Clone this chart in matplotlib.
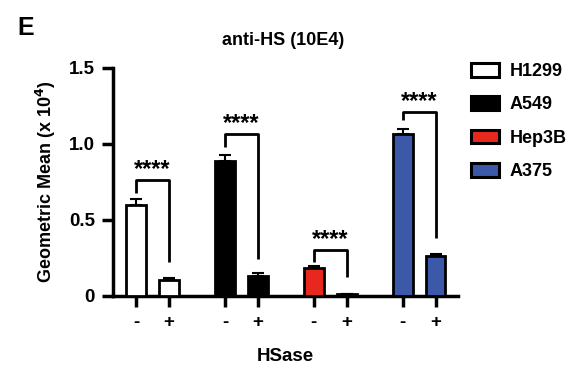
import matplotlib
matplotlib.use("Agg")
import matplotlib.pyplot as plt
from matplotlib.patches import Patch
import numpy as np

plt.rcParams["font.family"] = ["Liberation Sans", "DejaVu Sans"]
plt.rcParams["font.weight"] = "bold"

cell_lines = ["H1299", "A549", "Hep3B", "A375"]
colors = ["white", "black", "#e8281e", "#3b59a8"]
mean_minus = [0.595, 0.89, 0.185, 1.065]
mean_plus = [0.105, 0.13, 0.01, 0.265]
err_minus = [0.04, 0.04, 0.012, 0.035]
err_plus = [0.012, 0.02, 0.004, 0.012]
bracket_top = [0.76, 1.065, 0.30, 1.21]
bracket_left = [0.68, 0.98, 0.22, 1.16]
bracket_right = [0.22, 0.24, 0.125, 0.38]
tick_labels = ["-", "+"]

fig = plt.figure(figsize=(5.76, 3.69), dpi=100)
ax = fig.add_axes([0.196, 0.198, 0.599, 0.618])

gap = 0.37
width = 0.22
groups = np.arange(len(cell_lines))
x_minus = groups
x_plus = groups + gap

for i in range(len(cell_lines)):
    ax.bar([x_minus[i], x_plus[i]], [mean_minus[i], mean_plus[i]], width=width,
           color=colors[i], edgecolor="black", linewidth=2, zorder=3)
    ax.errorbar([x_minus[i], x_plus[i]], [mean_minus[i], mean_plus[i]],
                yerr=[[0, 0], [err_minus[i], err_plus[i]]], fmt="none",
                ecolor="black", elinewidth=1.5, capsize=4, capthick=1.5, zorder=2)
    # significance bracket
    ax.plot([x_minus[i], x_minus[i], x_plus[i], x_plus[i]],
            [bracket_left[i], bracket_top[i], bracket_top[i], bracket_right[i]],
            color="black", linewidth=2, solid_capstyle="butt", zorder=4)
    ax.text((x_minus[i] + x_plus[i]) / 2, bracket_top[i] - 0.005, "****",
            ha="center", va="bottom", fontsize=17, fontweight="bold")

ax.set_xlim(-0.26, 3.62)
ax.set_ylim(0, 1.5)
ax.set_yticks([0, 0.5, 1.0, 1.5])
ax.set_yticklabels(["0", "0.5", "1.0", "1.5"])

xt = np.sort(np.concatenate([x_minus, x_plus]))
ax.set_xticks(xt)
ax.set_xticklabels(tick_labels * len(cell_lines))

for s in ["top", "right"]:
    ax.spines[s].set_visible(False)
for s in ["left", "bottom"]:
    ax.spines[s].set_linewidth(2.5)
ax.tick_params(axis="both", width=2.5, length=8, labelsize=13.5, pad=5)
for lab in ax.get_xticklabels() + ax.get_yticklabels():
    lab.set_fontweight("bold")

ax.set_ylabel("Geometric Mean (x 10$^{\\mathbf{4}}$)", fontsize=13, fontweight="bold", labelpad=8)
ax.set_xlabel("HSase", fontsize=13.5, fontweight="bold", labelpad=12)
fig.text(0.492, 0.89, "anti-HS (10E4)", ha="center", va="center", fontsize=13, fontweight="bold")
fig.text(0.045, 0.925, "E", ha="center", va="center", fontsize=18, fontweight="bold")

handles = [Patch(facecolor=c, edgecolor="black", linewidth=2.2) for c in colors]
ax.legend(handles, cell_lines, loc="upper left", bbox_to_anchor=(1.0, 1.078),
          frameon=False, prop={"size": 13, "weight": "bold"},
          handlelength=1.55, handleheight=0.8, labelspacing=0.9, handletextpad=0.6,
          borderaxespad=0.3)

fig.savefig("out.png", dpi=100)
